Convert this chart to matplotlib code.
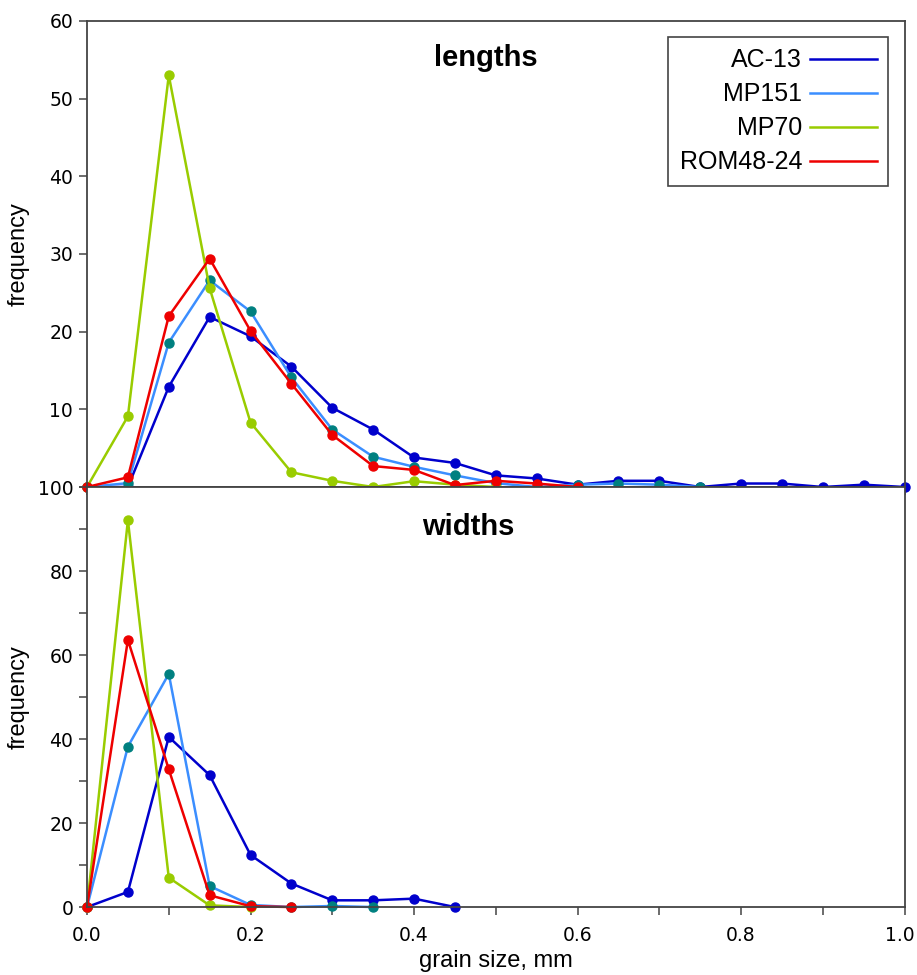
import matplotlib.pyplot as plt
import matplotlib.transforms as mtransforms
from matplotlib.lines import Line2D
from matplotlib.ticker import MultipleLocator

plt.rcParams['font.family'] = ['Liberation Sans', 'DejaVu Sans']

# grain size classes, mm
sizes = [0.0, 0.05, 0.1, 0.15, 0.2, 0.25, 0.3, 0.35, 0.4, 0.45, 0.5,
         0.55, 0.6, 0.65, 0.7, 0.75, 0.8, 0.85, 0.9, 0.95, 1.0]

# lengths
len_ac13 = [0, 0, 12.9, 21.9, 19.4, 15.5, 10.2, 7.4, 3.8, 3.1, 1.5,
            1.1, 0.3, 0.8, 0.8, 0, 0.45, 0.45, 0, 0.3, 0]
len_mp151 = [0, 0.5, 18.6, 26.6, 22.6, 14.1, 7.4, 3.9, 2.6, 1.5, 0.5,
             0, 0.3, 0.45, 0.3, 0]
len_mp70 = [0, 9.1, 53.0, 25.6, 8.3, 1.9, 0.8, 0, 0.75, 0.3, 0]
len_rom = [0, 1.25, 22.0, 29.4, 20.1, 13.3, 6.7, 2.7, 2.2, 0.25, 0.8,
           0.45, 0]

# widths
wid_ac13 = [0, 3.6, 40.5, 31.4, 12.4, 5.6, 1.6, 1.6, 2.0, 0]
wid_mp151 = [0, 38.2, 55.5, 5.0, 0.5, 0, 0.25, 0]
wid_mp70 = [0, 92.1, 7.0, 0.4, 0]
wid_rom = [0, 63.6, 32.8, 2.8, 0.2, 0]

names = ['AC-13', 'MP151', 'MP70', 'ROM48-24']
line_colors = ['#0000cc', '#3b8eff', '#99cc00', '#ee0000']
marker_colors = ['#0000cc', '#008080', '#99cc00', '#ee0000']

fig = plt.figure(figsize=(9.17, 9.75), dpi=100)
ax1 = fig.add_axes([0.0949, 0.5005, 0.8915, 0.478])
ax2 = fig.add_axes([0.0949, 0.0697, 0.8915, 0.4308])

spine_col = '#444444'
tick_font = {'family': 'DejaVu Sans', 'size': 13.5}


def draw(ax, series):
    for vals, lc, mc in zip(series, line_colors, marker_colors):
        ax.plot(sizes[:len(vals)], vals, '-', color=lc, linewidth=1.8,
                marker='o', markersize=6.5, markerfacecolor=mc,
                markeredgecolor=mc, clip_on=False)
    for s in ax.spines.values():
        s.set_color(spine_col)
        s.set_linewidth(1.3)
    ax.set_xlim(0, 1.0)
    ax.tick_params(axis='both', which='both', direction='out', length=6,
                   width=1.1, color=spine_col, pad=4)
    ax.set_ylabel('frequency', fontsize=17)
    ax.yaxis.set_label_coords(-0.07, 0.5)


draw(ax1, [len_ac13, len_mp151, len_mp70, len_rom])
draw(ax2, [wid_ac13, wid_mp151, wid_mp70, wid_rom])

# top panel
ax1.set_ylim(0, 60)
ax1.xaxis.set_major_locator(MultipleLocator(0.2))
ax1.tick_params(axis='x', labelbottom=False)
ax1.set_yticks([0, 10, 20, 30, 40, 50, 60])
ax1.set_yticklabels(['', '10', '20', '30', '40', '50', '60'], fontdict=tick_font)
ax1.text(0.488, 0.92, 'lengths', transform=ax1.transAxes, ha='center',
         va='center', fontsize=21, fontweight='bold')

# bottom panel
ax2.set_ylim(0, 100)
ax2.set_yticks([0, 20, 40, 60, 80, 100])
ax2.set_yticklabels(['0', '20', '40', '60', '80', '100'], fontdict=tick_font)
ax2.yaxis.set_minor_locator(MultipleLocator(10))
ax2.set_xticks([0.0, 0.2, 0.4, 0.6, 0.8, 1.0])
ax2.set_xticklabels(['0.0', '0.2', '0.4', '0.6', '0.8', '1.0'], fontdict=tick_font)
ax2.xaxis.set_minor_locator(MultipleLocator(0.1))
ax2.tick_params(axis='x', pad=8)
ax2.set_xlabel('grain size, mm', fontsize=17, labelpad=3)
ax2.text(0.466, 0.905, 'widths', transform=ax2.transAxes, ha='center',
         va='center', fontsize=21, fontweight='bold')

# nudge the last x label so it stays inside the figure
last = ax2.get_xticklabels()[-1]
last.set_transform(last.get_transform() +
                   mtransforms.ScaledTranslation(-5 / 100, 0, fig.dpi_scale_trans))

handles = [Line2D([], [], color=c, linewidth=1.8) for c in line_colors]
leg = ax1.legend(handles, names, loc='upper right', markerfirst=False,
                 fontsize=18, frameon=True, fancybox=False, framealpha=1,
                 edgecolor=spine_col, handlelength=2.7, handletextpad=0.3,
                 labelspacing=0.4, borderpad=0.45, borderaxespad=0.65)
leg.get_frame().set_linewidth(1.2)

fig.savefig('out.png', dpi=100)
